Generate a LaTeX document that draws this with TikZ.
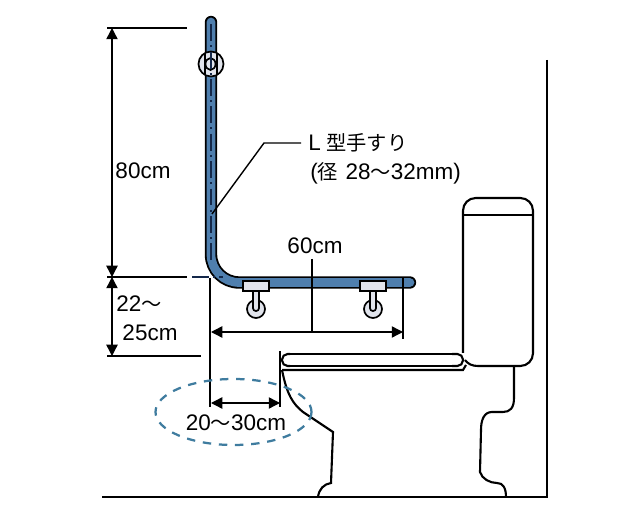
\documentclass[tikz,border=0pt]{standalone}
\usepackage{fontspec}
\setmainfont{Liberation Sans}
\newfontfamily\cjk[Scale=0.9]{Noto Sans CJK JP}
\usetikzlibrary{arrows.meta}

\definecolor{railblue}{HTML}{4F7FAE}
\definecolor{railnavy}{HTML}{14284A}
\definecolor{fixgray}{HTML}{E1E4EC}
\definecolor{ringblue}{HTML}{3F7C9F}

\begin{document}
\begin{tikzpicture}[
        x=0.025cm, y=-0.025cm,
        >={Triangle[length=8pt,width=8pt]},
        rail/.style={line width=1.3pt,double=railblue,double distance=6.2pt,line cap=round,rounded corners=20pt},
        railaxis/.style={railnavy,line width=1pt,dash pattern=on 12pt off 3pt on 1.5pt off 3pt},
        dim/.style={line width=1pt},
        ware/.style={line width=1.5pt},
        fix/.style={line width=1.2pt,fill=fixgray},
        label/.style={font=\fontsize{16}{19}\selectfont,inner sep=0pt}
        ]
            \useasboundingbox (0, 0) rectangle (640, 510);

            % Wall and floor
            \draw[line width=1.5pt] (547, 60) -- (547, 497) -- (102, 497);

            % Tank
            \draw[ware, rounded corners=9pt] (463, 353) -- (463, 198) -- (533, 198) -- (533, 366) -- (478, 366);
            \draw[ware] (478, 366) .. controls (472, 366) and (468, 364) .. (465, 360);
            \draw[ware] (463, 215) -- (533, 215);

            % Seat
            \draw[ware, rounded corners=4pt] (290, 354) -- (282, 354) -- (282, 366) -- (290, 366);
            \draw[ware] (290, 354) -- (452, 354);
            \draw[ware] (290, 366) -- (452, 366);
            \draw[ware, rounded corners=4pt] (452, 354) -- (463, 354) -- (463, 366) -- (452, 366);
            \draw[ware] (282, 370) -- (463, 370) -- (466, 365);

            % Bowl
            \draw[ware] (282, 370) .. controls (287, 395) and (293, 404) .. (303, 412) -- (333, 432) -- (331, 483) .. controls (324, 484) and (319, 489) .. (318, 497);
            \draw[ware] (514, 367) -- (514, 398) .. controls (514, 408) and (510, 412) .. (503, 412) -- (492, 412) .. controls (484, 412) and (481, 420) .. (481, 430) -- (480, 472) .. controls (482, 479) and (490, 483) .. (497, 483) .. controls (503, 483) and (506, 488) .. (506, 497);

            % Rail
            \draw[rail] (211, 22) -- (211, 282.5) -- (410, 282.5);
            \draw[railaxis] (211, 24) -- (211, 262);
            \draw[railaxis] (192, 277) -- (223, 277);

            % Wall fixings
            \draw[fix] (211, 64) circle (12.5);
            \draw[line width=1.2pt] (205, 53) -- (205, 75);
            \draw[line width=1.2pt] (217, 53) -- (217, 75);
            \draw[line width=1.2pt] (210.5, 64) ellipse (5 and 6);
            \draw[railaxis] (211, 52) -- (211, 76);
            \foreach \fixx in {256, 373} {
                \draw[fix] (\fixx, 309) circle (9);
                \draw[fix, rounded corners=2pt] (\fixx-3, 291) -- (\fixx-3, 311) -- (\fixx+3, 311) -- (\fixx+3, 291);
                \draw[fix] (\fixx-13, 281) rectangle (\fixx+13, 291);
            }

            % Dimension ends
            \coordinate (railtop) at (112, 28);
            \coordinate (railcorner) at (112, 277);
            \coordinate (seatlevel) at (112, 356);
            \coordinate (wallface) at (211, 403);
            \coordinate (seatedge) at (280, 403);
            \coordinate (railstart) at (211, 332);
            \coordinate (railend) at (403, 332);

            % 80cm and 22-25cm
            \draw[dim] (107, 28) -- (187, 28);
            \draw[dim] (107, 277) -- (187, 277);
            \draw[dim] (107, 356) -- (201, 356);
            \draw[dim, <->] (railtop) -- (railcorner);
            \draw[dim, <->] (railcorner) -- (seatlevel);
            \node[label] (lenheight) at (143, 171) {80cm};
            \node[label] (lenlowa) at (139, 304) {22{\cjk 〜}};
            \node[label] (lenlowb) at (150, 333) {25cm};

            % 60cm
            \draw[dim] (210, 278) -- (210, 407);
            \draw[dim] (403, 277) -- (403, 339);
            \draw[dim, <->] (railstart) -- (railend);
            \node[label] (lenrail) at (315, 246) {60cm};
            \draw[dim] (312, 259) -- (312, 332);

            % 20-30cm
            \draw[dim] (280, 351) -- (280, 407);
            \draw[dim, <->] (wallface) -- (seatedge);
            \node[label] (lengap) at (236, 423) {20{\cjk 〜}30cm};
            \draw[ringblue, line width=1.6pt, dash pattern=on 6pt off 5.5pt] (233.5, 412) ellipse (78 and 33);

            % Rail label
            \node[label, anchor=west] (railname) at (308, 143) {L\kern4pt{\cjk 型手すり}};
            \node[label, anchor=west] (railsize) at (310, 173) {({\cjk 径}\kern1pt{} 28{\cjk 〜}32mm)};
            \coordinate (railpoint) at (212, 214);
            \draw[dim] (railpoint) -- (264, 143) -- (301, 143);
        \end{tikzpicture}
\end{document}
